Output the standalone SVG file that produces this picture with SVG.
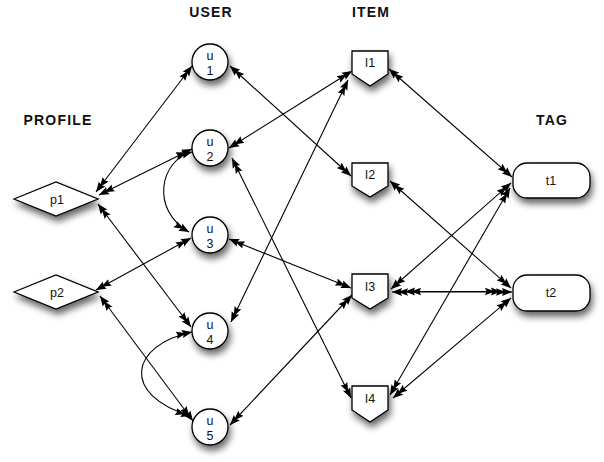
<svg xmlns="http://www.w3.org/2000/svg" width="604" height="462" viewBox="0 0 604 462">
<style>
.hdr{font-family:"Liberation Sans",Arial,sans-serif;font-weight:bold;font-size:14px;letter-spacing:1.2px;fill:#111;text-anchor:middle}
.lbl{font-family:"Liberation Sans",Arial,sans-serif;font-size:12.5px;fill:#111;text-anchor:middle}
.node{fill:#fff;stroke:#000;stroke-width:1.3;filter:url(#sh)}
.edge{fill:none;stroke:#000;stroke-width:1.1;marker-start:url(#ah);marker-end:url(#ah)}
</style>
<defs>
<filter id="sh" x="-40%" y="-40%" width="180%" height="190%">
<feDropShadow dx="2" dy="5" stdDeviation="3.5" flood-color="#000" flood-opacity="0.6"/>
</filter>
<marker id="ah" viewBox="0 0 16 9" refX="16" refY="4.5" markerWidth="16" markerHeight="9" markerUnits="userSpaceOnUse" orient="auto-start-reverse">
<path d="M16,4.5 L6,0.4 L7.5,4.5 L6,8.6 Z M10,4.5 L0,0.8 L1.5,4.5 L0,8.2 Z" fill="#000"/>
</marker>
</defs>
<rect width="604" height="462" fill="#fff"/>

<g id="headers">
<text class="hdr" x="211" y="17">USER</text>
<text class="hdr" x="371" y="17">ITEM</text>
<text class="hdr" x="58" y="125">PROFILE</text>
<text class="hdr" x="552" y="125">TAG</text>
</g>

<g id="connectors">
<line class="edge" x1="96" y1="192" x2="192" y2="66"/>
<line class="edge" x1="99" y1="195" x2="192" y2="149"/>
<line class="edge" x1="98" y1="204" x2="191" y2="327"/>
<line class="edge" x1="96" y1="290" x2="191" y2="238"/>
<line class="edge" x1="100" y1="296" x2="193" y2="421"/>
<path class="edge" d="M192,152 C160,160 150,210 189,232"/>
<path class="edge" d="M192,332 C130,345 120,395 191,416"/>
<line class="edge" x1="230" y1="66" x2="351" y2="176"/>
<line class="edge" x1="229" y1="148" x2="352" y2="71"/>
<line class="edge" x1="231" y1="322" x2="348" y2="80"/>
<line class="edge" x1="232" y1="158" x2="351" y2="398"/>
<line class="edge" x1="229" y1="239" x2="351" y2="288"/>
<line class="edge" x1="230" y1="425" x2="352" y2="295"/>
<line class="edge" x1="389" y1="69" x2="512" y2="177"/>
<line class="edge" x1="390" y1="181" x2="511" y2="288"/>
<line class="edge" x1="391" y1="289" x2="511" y2="183"/>
<line class="edge" x1="392" y1="292" x2="512" y2="292"/>
<line class="edge" x1="405" y1="291.5" x2="501" y2="291.5"/>
<line class="edge" x1="390" y1="395" x2="510" y2="188"/>
<line class="edge" x1="393" y1="398" x2="511" y2="298"/>
</g>

<g id="p1"><polygon class="node" points="14,199 56,182 98,199 56,216"/><text class="lbl" x="57" y="204">p1</text></g>
<g id="p2"><polygon class="node" points="14,292 56,275 98,292 56,309"/><text class="lbl" x="57" y="297">p2</text></g>

<g id="u1"><circle class="node" cx="210" cy="62" r="18"/><text class="lbl" x="210" y="60">u</text><text class="lbl" x="210" y="75">1</text></g>
<g id="u2"><circle class="node" cx="210" cy="148" r="18"/><text class="lbl" x="210" y="146">u</text><text class="lbl" x="210" y="161">2</text></g>
<g id="u3"><circle class="node" cx="210" cy="235" r="18"/><text class="lbl" x="210" y="233">u</text><text class="lbl" x="210" y="248">3</text></g>
<g id="u4"><circle class="node" cx="210" cy="331" r="18"/><text class="lbl" x="210" y="329">u</text><text class="lbl" x="210" y="344">4</text></g>
<g id="u5"><circle class="node" cx="210" cy="427" r="18"/><text class="lbl" x="210" y="425">u</text><text class="lbl" x="210" y="440">5</text></g>

<g id="I1"><path class="node" d="M352,51 H388 V74 L370,86 L352,74 Z"/><text class="lbl" x="370" y="67">I1</text></g>
<g id="I2"><path class="node" d="M352,163 H388 V186 L370,197 L352,186 Z"/><text class="lbl" x="370" y="179">I2</text></g>
<g id="I3"><path class="node" d="M352,274 H388 V298 L370,309 L352,298 Z"/><text class="lbl" x="370" y="291">I3</text></g>
<g id="I4"><path class="node" d="M352,386 H388 V410 L370,422 L352,410 Z"/><text class="lbl" x="370" y="403">I4</text></g>

<g id="t1"><rect class="node" x="513" y="163" width="77" height="35" rx="14"/><text class="lbl" x="551" y="185">t1</text></g>
<g id="t2"><rect class="node" x="513" y="275" width="77" height="36" rx="14"/><text class="lbl" x="551" y="297">t2</text></g>
</svg>
